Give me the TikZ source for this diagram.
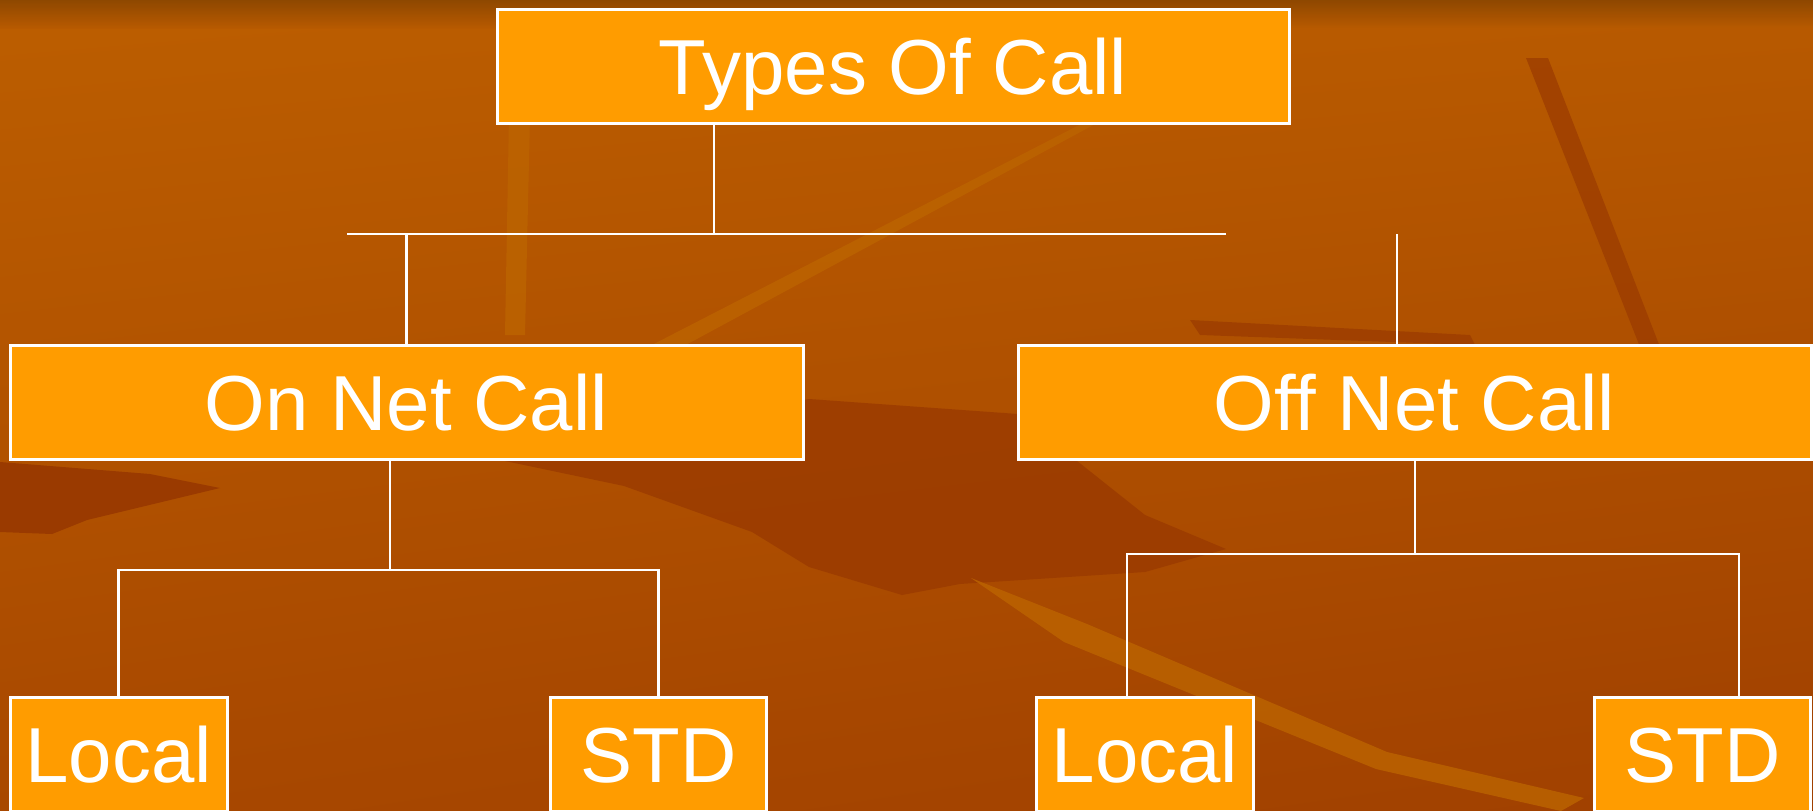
\documentclass[tikz,border=0pt]{standalone}
\usepackage{fontspec}
\setmainfont{Liberation Sans}
\usetikzlibrary{shadings}
\definecolor{boxorange}{HTML}{FF9C00}
\definecolor{bgdark}{HTML}{9A3A00}
\definecolor{bglight}{HTML}{BC6400}
\definecolor{bgul}{HTML}{BC5E00}
\definecolor{bgur}{HTML}{B85A00}
\definecolor{bgll}{HTML}{A84800}
\definecolor{bglr}{HTML}{A04000}
\definecolor{bgtop}{HTML}{8A4600}
\begin{document}
\begin{tikzpicture}[x=1pt,y=-1pt,
    callbox/.style={draw=white,line width=3pt,fill=boxorange,text=white,inner sep=0pt,
        minimum height=114pt,text height=56pt,text depth=0pt,
        font=\fontsize{78}{80}\selectfont},
    link/.style={draw=white,line width=2.5pt}]
    \useasboundingbox (0,0) rectangle (1813,811);
    % background
    \shade[upper left=bgul,upper right=bgur,lower left=bgll,lower right=bglr] (0,0) rectangle (1813,811);
    \fill[bgdark,opacity=.8] (486,457)--(624,486)--(752,532)--(809,567)--(902,595)--(960,584)--(1145,572)--(1226,549)--(1145,515)--(1018,414)--(809,399)--cycle;
    \fill[bgdark] (0,462)--(150,474)--(220,488)--(87,520)--(52,534)--(0,532)--cycle;
    \fill[bgdark,opacity=.7] (1526,58)--(1548,58)--(1660,347)--(1640,347)--cycle;
    \fill[bgdark,opacity=.7] (1190,320)--(1470,335)--(1475,345)--(1200,335)--cycle;
    \fill[bglight,opacity=.8] (648,347)--(1087,121)--(1110,116)--(682,347)--cycle;
    \fill[bglight,opacity=.8] (509,116)--(530,116)--(525,335)--(505,335)--cycle;
    \fill[bglight,opacity=.8] (971,578)--(1087,624)--(1387,752)--(1584,798)--(1561,811)--(1376,769)--(1064,642)--cycle;
    \shade[top color=bgtop,bottom color=bgur,opacity=.9] (0,0) rectangle (1813,28);
    % boxes
    \node[callbox,minimum width=792pt] (top) at (893,66) {Types Of Call};
    \node[callbox,minimum width=793pt] (onnet) at (406.5,402) {On Net Call};
    \node[callbox,minimum width=793pt] (offnet) at (1414.5,402) {Off Net Call};
    \node[callbox,minimum width=217pt] (loc1) at (118.5,754) {Local};
    \node[callbox,minimum width=216pt] (std1) at (658.5,754) {STD};
    \node[callbox,minimum width=217pt] (loc2) at (1145,754) {Local};
    \node[callbox,minimum width=216pt] (std2) at (1702.5,754) {STD};
    % connectors
    \coordinate (jt) at (714,234);
    \coordinate (bl) at (347,234);
    \coordinate (br) at (1226,234);
    \coordinate (jo) at (1397,234);
    \coordinate (ja) at (390,570);
    \coordinate (jb) at (1415,554);
    \coordinate (lb) at (1127,554);
    \coordinate (rb) at (1739,554);
    \draw[link] (jt |- top.south)--(jt);
    \draw[link] (bl)--(br);
    \draw[link] (onnet.north |- bl)--(onnet.north);
    \draw[link] (jo)--(jo |- offnet.north);
    \draw[link] (ja |- onnet.south)--(ja);
    \draw[link] (loc1.north)--(loc1.north |- ja)--(std1.north |- ja)--(std1.north);
    \draw[link] (jb |- offnet.south)--(jb);
    \draw[link] (lb |- loc2.north)--(lb)--(rb)--(rb |- std2.north);
\end{tikzpicture}
\end{document}
